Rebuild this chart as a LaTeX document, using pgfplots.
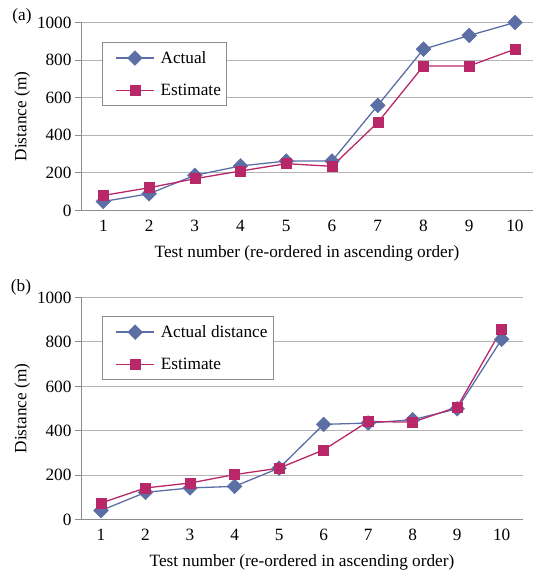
\documentclass[border=0pt]{standalone}
\usepackage{fontspec}
\setmainfont{Liberation Serif}
\usepackage{pgfplots}
\pgfplotsset{compat=1.18}
\definecolor{act}{RGB}{91,111,165}
\definecolor{est}{RGB}{184,40,104}
\definecolor{gridc}{RGB}{180,180,180}
\definecolor{axc}{RGB}{140,140,140}
\newcommand{\ff}{\fontsize{17.3}{20}\selectfont}
\pgfplotsset{
  mystyle/.style={
    scale only axis,
    ymin=0, ymax=1000,
    axis x line*=bottom, axis y line*=left,
    axis line style={axc, line width=1pt},
    xtick={1,...,10}, ytick={0,200,...,1000},
    tick align=outside,
    major tick length=6bp,
    x tick style={draw=none},
    y tick style={axc, line width=1pt},
    ymajorgrids, grid style={gridc, line width=1pt},
    font=\ff,
    tick label style={font=\ff},
    /pgf/number format/assume math mode=true,
    /pgf/number format/1000 sep={},
    xlabel={Test number (re-ordered in ascending order)},
    ylabel={Distance (m)},
    xlabel style={yshift=-7bp},
    legend cell align=left,
    legend style={draw=axc, line width=1pt, anchor=north west,
      inner xsep=3bp, inner ysep=6bp, row sep=13bp,
      font=\ff,
      nodes={inner sep=3bp}},
    legend image code/.code={\path (0bp,0bp) (51bp,0bp);
      \draw[#1, mark=none, line width=1.4pt] (10bp,0bp) -- (48bp,0bp);
      \draw[mark repeat=2,mark phase=2,#1,draw=none] plot coordinates {(10bp,0bp) (29bp,0bp) (48bp,0bp)};},
  },
  actst/.style={color=act, line width=1.3pt, mark=square*, mark size=5.2bp, mark options={rotate=45, fill=act, draw=act, line width=0.5pt}},
  estst/.style={color=est, line width=1.3pt, mark=square*, mark size=5bp, mark options={fill=est, draw=est, line width=0.5pt}},
}
\begin{document}
\begin{tikzpicture}
\path[use as bounding box] (0,0) rectangle (533bp,575bp);
% (a)
\begin{axis}[mystyle,
  at={(81bp,364.5bp)}, anchor=south west,
  width=452bp, height=188bp,
  xmin=0.512, xmax=10.394,
  legend style={at={(0.046,0.897)}}]
\addplot[actst] coordinates {(1,48) (2,89) (3,187) (4,237) (5,263) (6,263) (7,559) (8,858) (9,931) (10,1000)};
\addlegendentry{Actual}
\addplot[estst] coordinates {(1,80) (2,121) (3,169) (4,210) (5,249) (6,235) (7,468) (8,769) (9,769) (10,858)};
\addlegendentry{Estimate}
\end{axis}
% (b)
\begin{axis}[mystyle,
  at={(81bp,55.3bp)}, anchor=south west,
  width=442bp, height=222.2bp,
  xmin=0.551, xmax=10.478,
  legend style={at={(0.0475,0.917)}}]
\addplot[actst] coordinates {(1,41) (2,123) (3,143) (4,150) (5,232) (6,429) (7,435) (8,450) (9,499) (10,812)};
\addlegendentry{Actual distance}
\addplot[estst] coordinates {(1,75) (2,143) (3,165) (4,203) (5,232) (6,314) (7,442) (8,439) (9,507) (10,857)};
\addlegendentry{Estimate}
\end{axis}
\node[font=\ff] at (22bp,559bp) {(a)};
\node[font=\ff] at (21bp,288bp) {(b)};
\end{tikzpicture}
\end{document}
